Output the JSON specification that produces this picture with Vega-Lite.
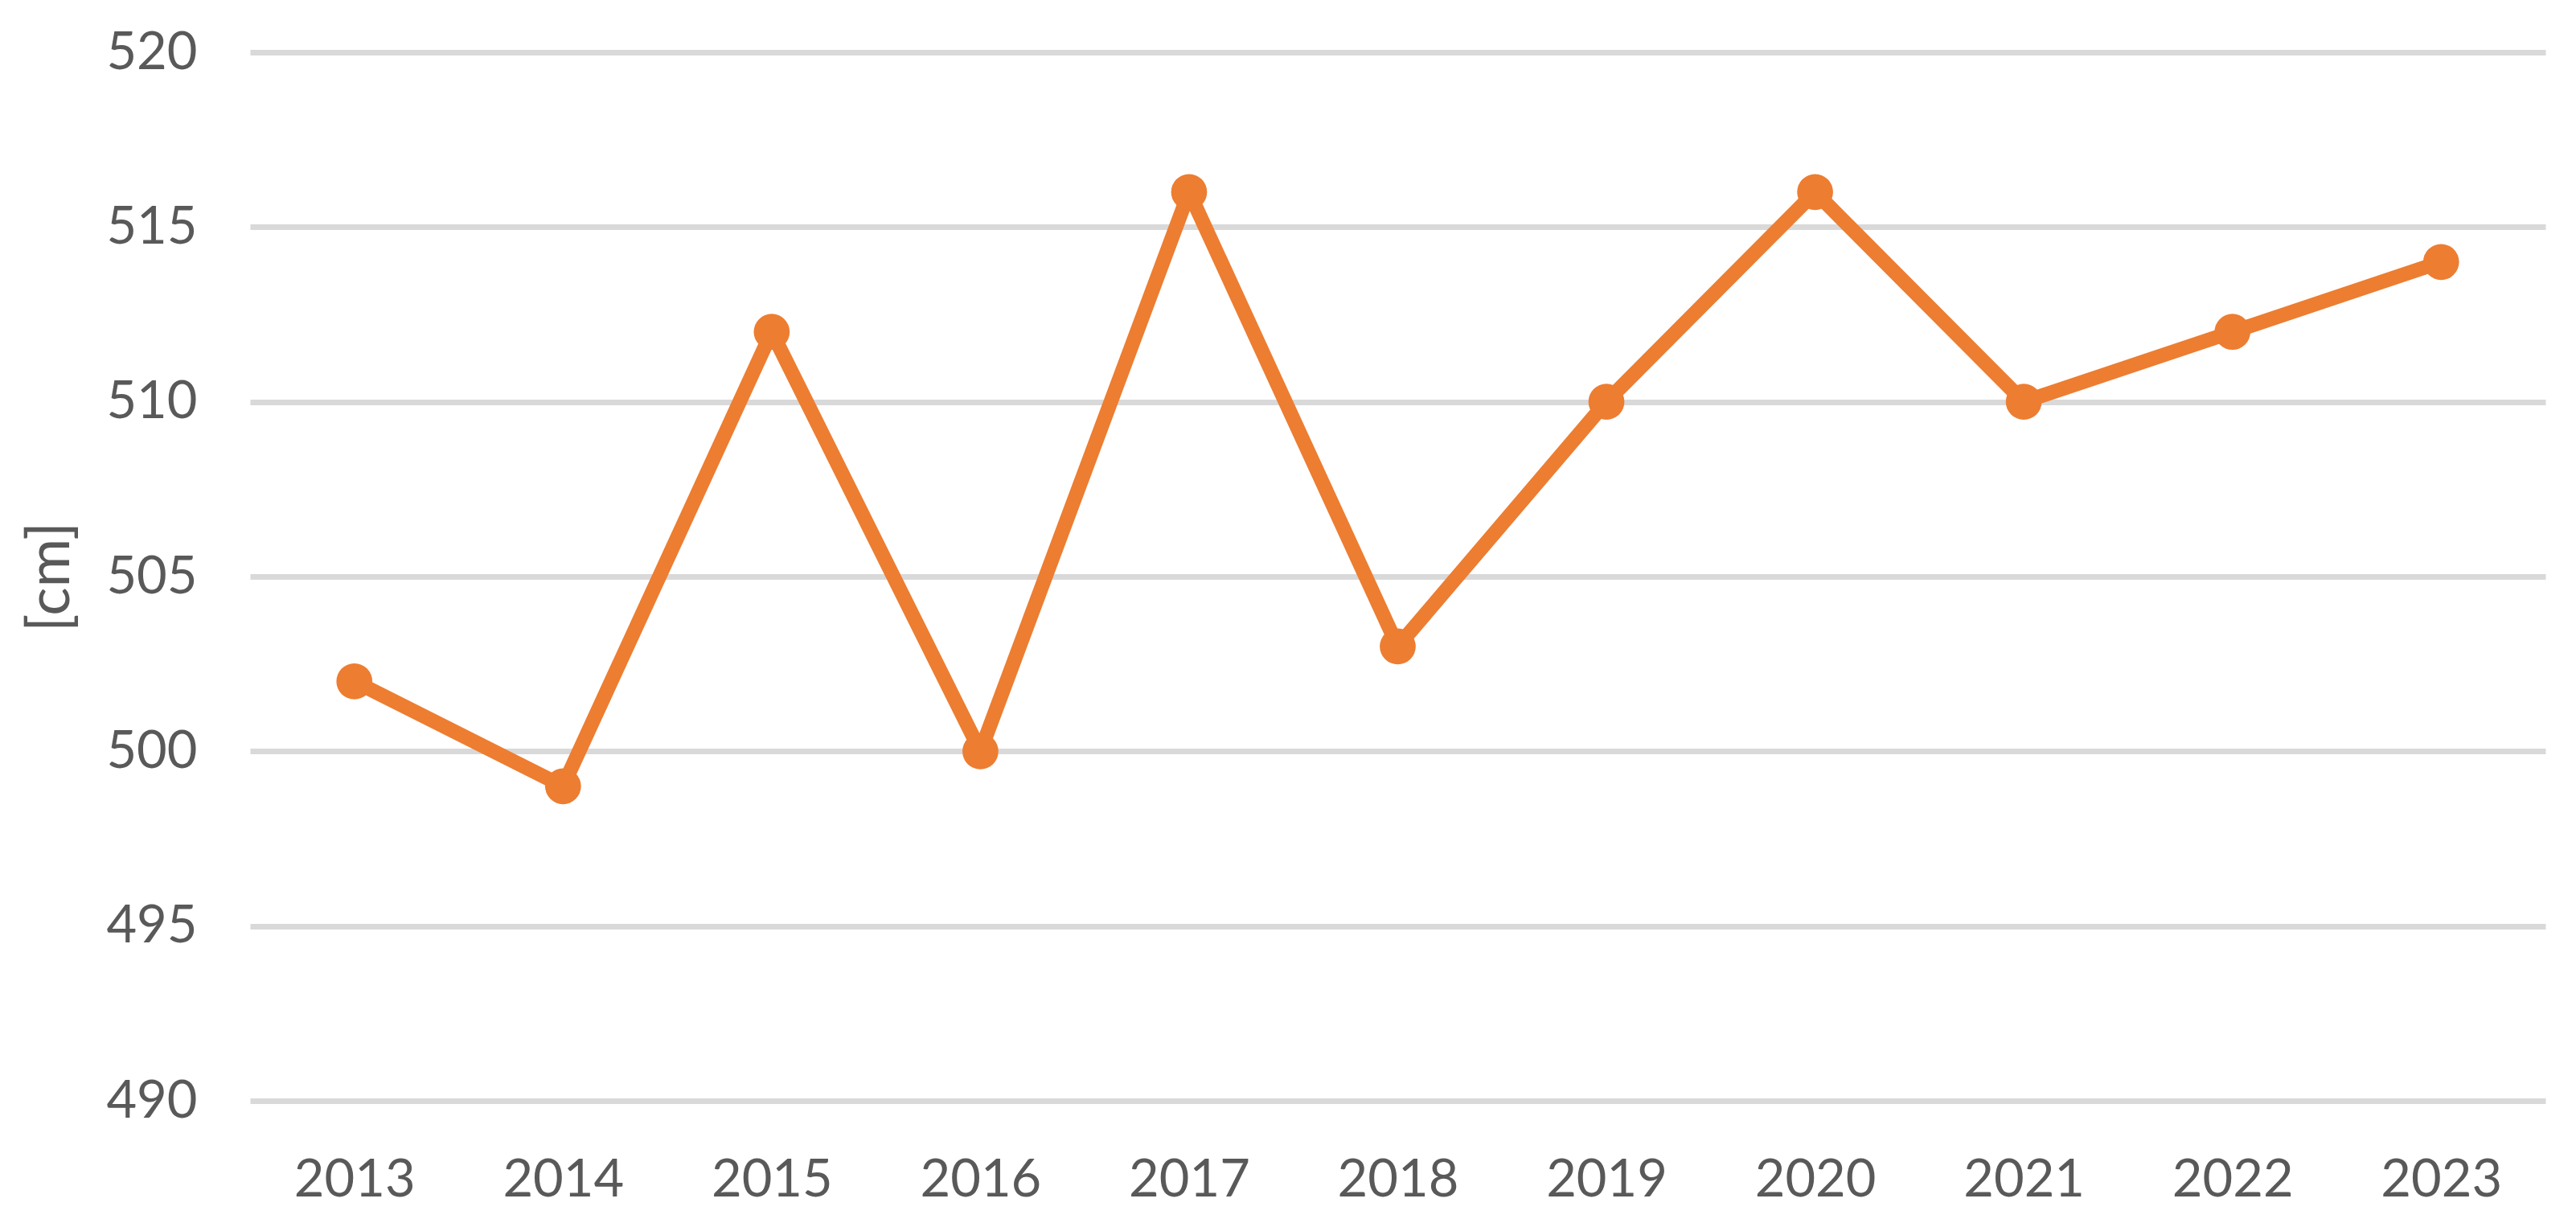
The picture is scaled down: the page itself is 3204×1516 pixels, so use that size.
{
  "$schema": "https://vega.github.io/schema/vega-lite/v6.json",
  "autosize": "none",
  "width": 2855,
  "height": 1304,
  "padding": {"left": 311, "top": 65, "right": 38, "bottom": 147},
  "background": "white",
  "config": {"view": {"stroke": null}},
  "data": {"values": [
    {"year": "2013", "value": 502},
    {"year": "2014", "value": 499},
    {"year": "2015", "value": 512},
    {"year": "2016", "value": 500},
    {"year": "2017", "value": 516},
    {"year": "2018", "value": 503},
    {"year": "2019", "value": 510},
    {"year": "2020", "value": 516},
    {"year": "2021", "value": 510},
    {"year": "2022", "value": 512},
    {"year": "2023", "value": 514}
  ]},
  "encoding": {
    "x": {"field": "year", "type": "ordinal", "scale": {"type": "point", "padding": 0.5},
      "axis": {"title": null, "labelAngle": 0, "labelFont": "Lato", "labelFontSize": 65, "labelColor": "#595959", "labelPadding": 67, "ticks": false, "domain": false, "grid": false}},
    "y": {"field": "value", "type": "quantitative", "scale": {"domain": [490, 520], "nice": false, "zero": false},
      "axis": {"title": "[cm]", "values": [490, 495, 500, 505, 510, 515, 520], "labelFont": "Lato", "labelFontSize": 65, "labelColor": "#595959", "labelPadding": 66, "ticks": false, "domain": false, "grid": true, "gridColor": "#d9d9d9", "gridWidth": 7,
        "titleFont": "Lato", "titleFontSize": 74, "titleFontWeight": "normal", "titleColor": "#595959", "titleX": -248, "titleAngle": -90, "titleAlign": "center", "titleBaseline": "middle"}}
  },
  "layer": [
    {"mark": {"type": "line", "color": "#ED7D31", "strokeWidth": 18, "strokeJoin": "round"}},
    {"mark": {"type": "point", "filled": true, "opacity": 1, "color": "#ED7D31", "size": 2000}}
  ]
}
